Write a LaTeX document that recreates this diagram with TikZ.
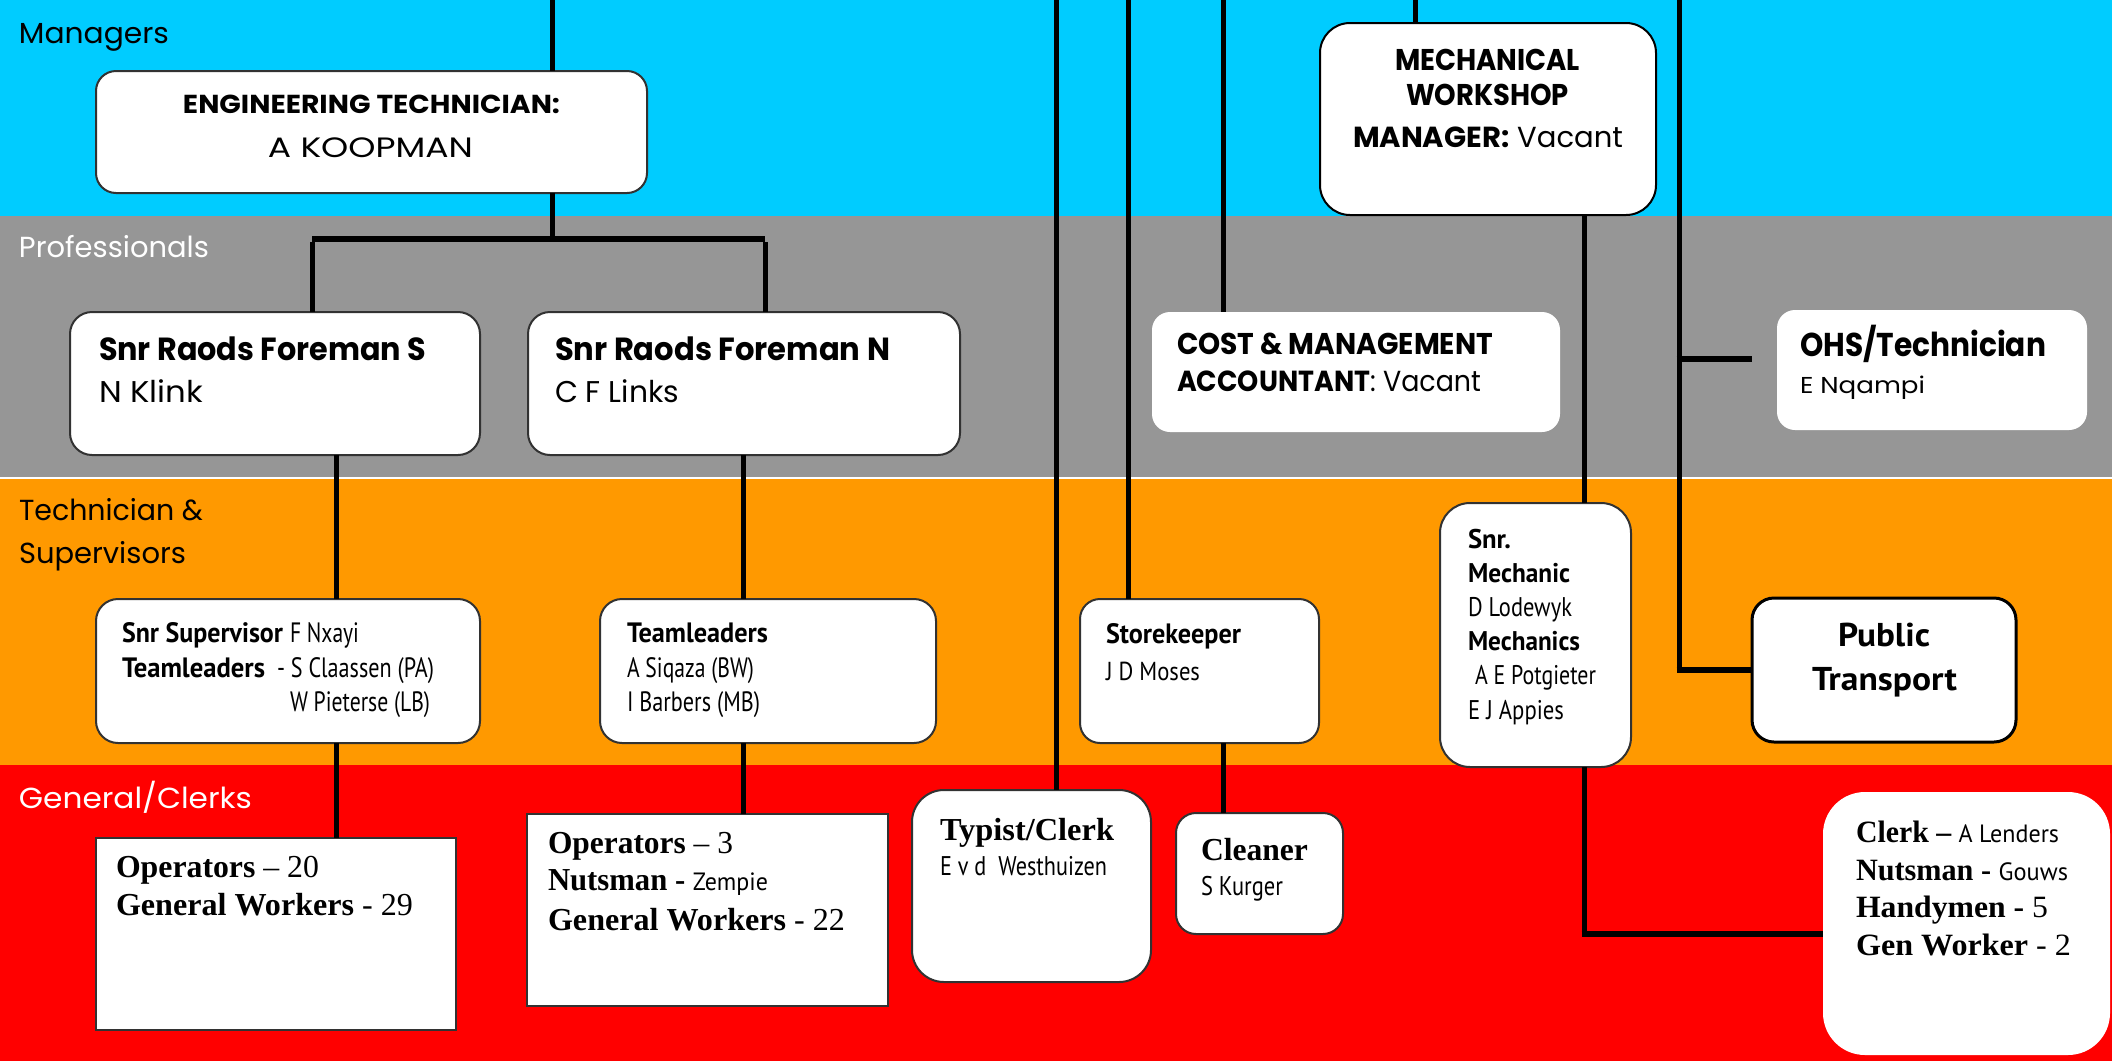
\documentclass[tikz,border=0pt]{standalone}
\usepackage{fontspec}
\usepackage{graphicx}
\setmainfont{Poppins}
\newfontfamily\fgeo{Poppins}
\newfontfamily\fcnd{PT Sans}
\newfontfamily\fser{Liberation Serif}
\newcommand\sz[1]{\fontsize{#1}{#1}\selectfont}
% set a line to a given width (in pt), keeping its height
\newcommand\fitw[2]{\resizebox{#1pt}{\height}{#2}}

\definecolor{bandMgr}{RGB}{0,204,255}
\definecolor{bandPro}{RGB}{150,150,150}
\definecolor{bandTech}{RGB}{255,153,0}
\definecolor{bandGen}{RGB}{255,0,0}
\definecolor{edge}{RGB}{50,50,50}

\begin{document}
\begin{tikzpicture}[x=1pt,y=-1pt,
  wire/.style={line width=5pt,draw=black},
  hwire/.style={line width=6pt,draw=black},
  rbox/.style={draw=edge,line width=2pt,fill=white,rounded corners=#1,inner sep=0pt,outer sep=0pt},
  rbox/.default=20pt,
  pbox/.style={fill=white,rounded corners=#1,inner sep=0pt,outer sep=0pt},
  pbox/.default=18pt,
  sbox/.style={draw=edge,line width=2.5pt,fill=white,inner sep=0pt,outer sep=0pt},
  lt/.style={inner sep=0pt,outer sep=0pt,anchor=base west},
  ct/.style={inner sep=0pt,outer sep=0pt,anchor=base},
]
\useasboundingbox (0,0) rectangle (2112,1061);

% ---- level bands ----
\fill[bandMgr]  (0,0)     rectangle (2112,215.5);
\fill[bandPro]  (0,215.5) rectangle (2112,477);
\fill[white]    (0,477)   rectangle (2112,479);
\fill[bandTech] (0,479)   rectangle (2112,765);
\fill[bandGen]  (0,765)   rectangle (2112,1061);

\node[lt] (lblMgr) at (19,43)  {\fitw{150}{\fgeo\sz{29}Managers}};
\node[lt,text=white] (lblPro) at (19,257) {\fitw{190}{\fgeo\sz{29}Professionals}};
\node[lt] (lblTech1) at (19,520) {\fitw{184}{\fgeo\sz{29}Technician \&}};
\node[lt] (lblTech2) at (19,563) {\fitw{167}{\fgeo\sz{29}Supervisors}};
\node[lt,text=white] (lblGen) at (19,808) {\fitw{233}{\fgeo\sz{29}General/Clerks}};

% ---- boxes ----
\node[rbox=20pt,minimum width=551pt,minimum height=122pt] (eng)   at (371.5,132) {};
\node[rbox=22pt,minimum width=410pt,minimum height=143pt] (fS)    at (275,383.5) {};
\node[rbox=22pt,minimum width=432pt,minimum height=143pt] (fN)    at (744,383.5) {};
\node[rbox=30pt,minimum width=336pt,minimum height=192pt,draw=black] (mech) at (1488,119) {};
\node[pbox=18pt,minimum width=408pt,minimum height=120pt] (cost)  at (1356,372) {};
\node[pbox=18pt,minimum width=310pt,minimum height=120pt] (ohs)   at (1932,370) {};
\node[rbox=22pt,minimum width=384pt,minimum height=144pt] (sup)   at (288,671) {};
\node[rbox=22pt,minimum width=336pt,minimum height=144pt] (tl)    at (768,671) {};
\node[rbox=20pt,minimum width=239pt,minimum height=144pt] (store) at (1199.5,671) {};
\node[rbox=30pt,minimum width=191pt,minimum height=264pt] (smech) at (1535.5,635) {};
\node[rbox=22pt,minimum width=264pt,minimum height=144pt,draw=black,line width=3pt] (pub) at (1884,670) {};
\node[sbox,minimum width=360pt,minimum height=192pt] (op20)  at (276,934) {};
\node[sbox,minimum width=361pt,minimum height=192pt] (op3)   at (707.5,910) {};
\node[rbox=32pt,minimum width=239pt,minimum height=192pt] (typ)   at (1031.5,886) {};
\node[rbox=20pt,minimum width=167pt,minimum height=121pt] (clean) at (1259.5,873.5) {};
\node[pbox=42pt,minimum width=287pt,minimum height=263pt] (clerk) at (1966.5,923.5) {};

% ---- connector columns ----
\coordinate (xEng)   at (552,0);
\coordinate (busL)   at (312,239);
\coordinate (busR)   at (765,239);
\coordinate (xS)     at (336,0);
\coordinate (xN)     at (743,0);
\coordinate (xTyp)   at (1056,0);
\coordinate (xStore) at (1128,0);
\coordinate (xCost)  at (1223,0);
\coordinate (xMech)  at (1415,0);
\coordinate (xSM)    at (1584,0);
\coordinate (xPT)    at (1679,0);

\draw[wire] (xEng) -- (xEng |- eng.north);
\draw[wire] (xEng |- eng.south) -- (xEng |- busL);
\draw[hwire] (busL) -- (busR);
\draw[wire] (busL |- fS.north) -- ([yshift=-3pt]busL);
\draw[wire] (busR |- fN.north) -- ([yshift=-3pt]busR);
\draw[wire] (xS |- fS.south) -- (xS |- sup.north);
\draw[wire] (xS |- sup.south) -- (xS |- op20.north);
\draw[wire] (xN |- fN.south) -- (xN |- tl.north);
\draw[wire] (xN |- tl.south) -- (xN |- op3.north);
\draw[wire] (xTyp) -- (xTyp |- typ.north);
\draw[wire] (xStore) -- (xStore |- store.north);
\draw[wire] (xCost) -- (xCost |- cost.north);
\draw[wire] (xCost |- store.south) -- (xCost |- clean.north);
\draw[wire] (xMech) -- (xMech |- mech.north);
\draw[wire] (xSM |- mech.south) -- (xSM |- smech.north);
\draw[wire] (xSM |- smech.south) -- (xSM |- 0,934);
\draw[hwire] ([xshift=-2.5pt]xSM |- 0,934) -- ([yshift=-10.5pt]clerk.west);
\draw[wire] (xPT) -- (xPT |- pub.west);
\draw[hwire] ([xshift=-2.5pt]xPT |- pub.west) -- (pub.west);
\draw[hwire,shorten >=25pt] ([xshift=-2.5pt]xPT |- 0,359) -- ([yshift=11pt]ohs.west);

% ---- box texts ----
\node[ct] (engT1) at (371.5,113) {\fitw{377}{\fgeo\bfseries\sz{26}ENGINEERING TECHNICIAN:}};
\node[ct] (engT2) at (370.5,157) {\fitw{205}{\fgeo\sz{28}A KOOPMAN}};

\node[lt] (fST1) at (99,360) {\fitw{327}{\fgeo\bfseries\sz{32}Snr Raods Foreman S}};
\node[lt] (fST2) at (99,402) {\fitw{104}{\fgeo\sz{30}N Klink}};
\node[lt] (fNT1) at (555,360) {\fitw{335}{\fgeo\bfseries\sz{32}Snr Raods Foreman N}};
\node[lt] (fNT2) at (555,402) {\fitw{124}{\fgeo\sz{30}C F Links}};

\node[ct] (mechT1) at (1487.5,70)  {\fitw{185}{\fgeo\bfseries\sz{30}MECHANICAL}};
\node[ct] (mechT2) at (1487.5,105) {\fitw{163}{\fgeo\bfseries\sz{30}WORKSHOP}};
\node[ct] (mechT3) at (1488,147)   {\fitw{270}{\fgeo\sz{29}{\bfseries MANAGER:} Vacant}};

\node[lt] (costT1) at (1177,354) {\fitw{316}{\fgeo\bfseries\sz{30}COST \& MANAGEMENT}};
\node[lt] (costT2) at (1177,391) {\fitw{304}{\fgeo\sz{29}{\bfseries ACCOUNTANT}: Vacant}};

\node[lt] (ohsT1) at (1800,356) {\fitw{246}{\fgeo\bfseries\sz{33}OHS/Technician}};
\node[lt] (ohsT2) at (1800,393) {\fitw{125}{\fgeo\sz{23}E Nqampi}};

\node[lt] (supT1) at (122,642) {\fitw{161}{\fcnd\bfseries\sz{28}Snr Supervisor}};
\node[lt] (supT2) at (290,642) {\fitw{69}{\fcnd\sz{28}F Nxayi}};
\node[lt] (supT3) at (122,677) {\fitw{143}{\fcnd\bfseries\sz{28}Teamleaders}};
\node[lt] (supT4) at (277,677) {\fitw{157}{\fcnd\sz{28}- S Claassen (PA)}};
\node[lt] (supT5) at (290,711) {\fitw{140}{\fcnd\sz{28}W Pieterse (LB)}};

\node[lt] (tlT1) at (627,642) {\fitw{141}{\fcnd\bfseries\sz{28}Teamleaders}};
\node[lt] (tlT2) at (627,677) {\fitw{127}{\fcnd\sz{28}A Siqaza (BW)}};
\node[lt] (tlT3) at (627,711) {\fitw{133}{\fcnd\sz{28}I Barbers (MB)}};

\node[lt] (stT1) at (1106,643) {\fitw{135}{\fcnd\bfseries\sz{28}Storekeeper}};
\node[lt] (stT2) at (1106,680) {\fitw{94}{\fcnd\sz{26}J D Moses}};

\node[lt] (smT1) at (1468,548) {\fitw{43}{\fcnd\bfseries\sz{27}Snr.}};
\node[lt] (smT2) at (1468,582) {\fitw{102}{\fcnd\bfseries\sz{27}Mechanic}};
\node[lt] (smT3) at (1468,616) {\fitw{104}{\fcnd\sz{27}D Lodewyk}};
\node[lt] (smT4) at (1468,650) {\fitw{112}{\fcnd\bfseries\sz{27}Mechanics}};
\node[lt] (smT5) at (1475,684) {\fitw{121}{\fcnd\sz{27}A E Potgieter}};
\node[lt] (smT6) at (1468,719) {\fitw{96}{\fcnd\sz{27}E J Appies}};

\node[ct] (pubT1) at (1884,646)   {\fitw{92}{\fcnd\bfseries\sz{33}Public}};
\node[ct] (pubT2) at (1884.5,690) {\fitw{145}{\fcnd\bfseries\sz{33}Transport}};

\node[lt] (o20T1) at (116,877) {\fitw{203}{\fser\sz{32}{\bfseries Operators} – 20}};
\node[lt] (o20T2) at (116,915) {\fitw{297}{\fser\sz{32}{\bfseries General Workers} - 29}};

\node[lt] (o3T1) at (548,853) {\fitw{185}{\fser\sz{32}{\bfseries Operators} – 3}};
\node[lt] (o3T2) at (548,890) {\fitw{220}{\fser\sz{32}{\bfseries Nutsman -} {\fcnd\sz{25}Zempie}}};
\node[lt] (o3T3) at (548,930) {\fitw{297}{\fser\sz{32}{\bfseries General Workers} - 22}};

\node[lt] (typT1) at (940,840) {\fitw{174}{\fser\bfseries\sz{32}Typist/Clerk}};
\node[lt] (typT2) at (940,875) {\fitw{167}{\fcnd\sz{27}E v d\ \ Westhuizen}};

\node[lt] (clT1) at (1201,860) {\fitw{107}{\fser\bfseries\sz{32}Cleaner}};
\node[lt] (clT2) at (1201,895) {\fitw{82}{\fcnd\sz{27}S Kurger}};

\node[lt] (ckT1) at (1856,842) {\fitw{203}{\fser\bfseries\sz{31}Clerk – {\fcnd\mdseries\sz{25}A Lenders}}};
\node[lt] (ckT2) at (1856,880) {\fitw{212}{\fser\bfseries\sz{31}Nutsman - {\fcnd\mdseries\sz{25}Gouws}}};
\node[lt] (ckT3) at (1856,917) {\fitw{192}{\fser\sz{31}{\bfseries Handymen -} 5}};
\node[lt] (ckT4) at (1856,955) {\fitw{215}{\fser\sz{31}{\bfseries Gen Worker} - 2}};
\end{tikzpicture}
\end{document}
